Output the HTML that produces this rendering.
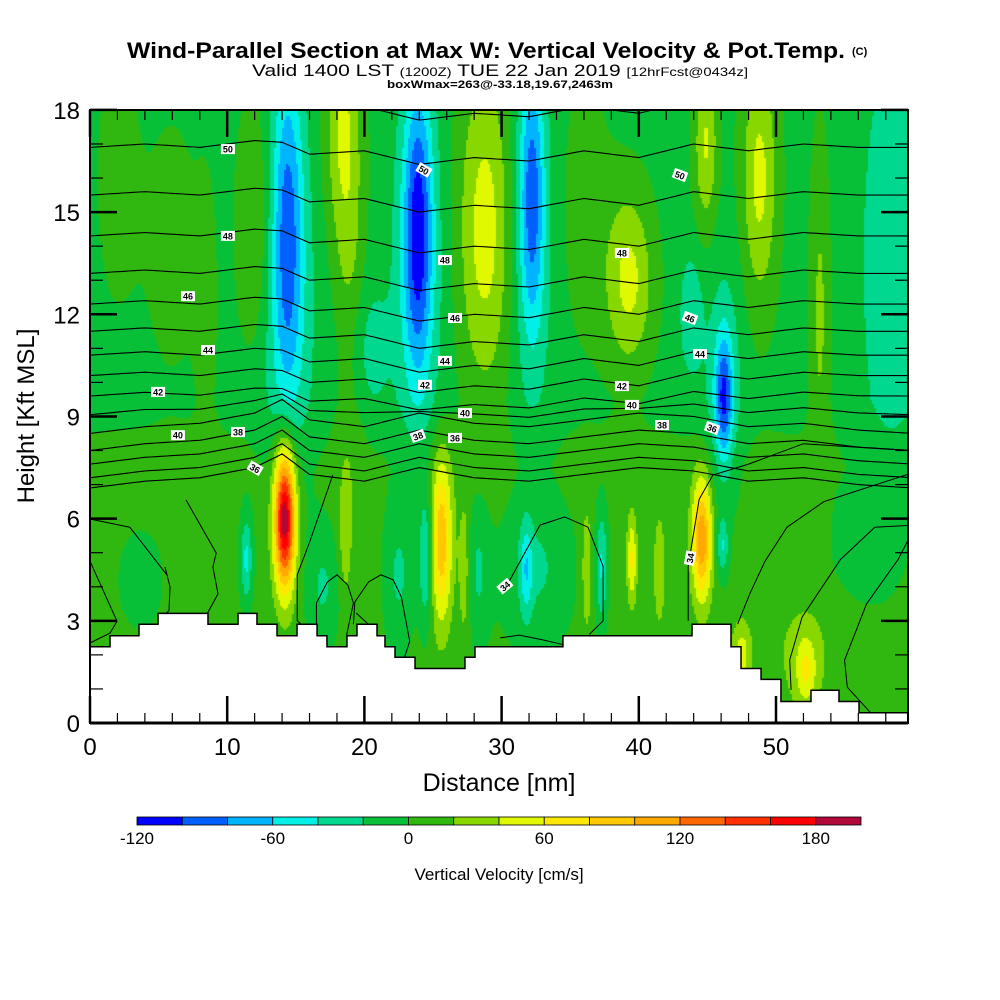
<!DOCTYPE html>
<html><head><meta charset="utf-8">
<style>
html,body{margin:0;padding:0;background:#fff;}
#wrap{position:relative;width:1000px;height:1000px;overflow:hidden;font-family:"Liberation Sans",sans-serif;}
#field{position:absolute;left:90px;top:110px;}
#over{position:absolute;left:0;top:0;}
</style></head>
<body>
<div id="wrap">
<canvas id="field" width="818" height="613"></canvas>
<svg id="over" width="1000" height="1000" xmlns="http://www.w3.org/2000/svg">
<g id="contourG"></g>
<g id="terrainG"></g>
<g id="labelG"></g>
<g id="axesG"></g>
<text x="127" y="58" textLength="718" lengthAdjust="spacingAndGlyphs" font-size="22" font-weight="bold">Wind-Parallel Section at Max W: Vertical Velocity &amp; Pot.Temp.</text>
<text x="852" y="55" font-size="11" font-weight="bold">(C)</text>
<text x="252" y="76" textLength="496" lengthAdjust="spacingAndGlyphs" font-size="17">Valid 1400 LST <tspan font-size="12">(1200Z)</tspan> TUE 22 Jan 2019 <tspan font-size="12">[12hrFcst@0434z]</tspan></text>
<text x="387" y="88" textLength="226" lengthAdjust="spacingAndGlyphs" font-size="11" font-weight="bold">boxWmax=263@-33.18,19.67,2463m</text>
<text x="499" y="791" text-anchor="middle" font-size="25">Distance [nm]</text>
<text transform="translate(34,416) rotate(-90)" text-anchor="middle" font-size="24">Height [Kft MSL]</text>
<g id="cbarG"></g>
<text x="499" y="880" text-anchor="middle" font-size="17">Vertical Velocity [cm/s]</text>
</svg>
</div>
<script>
// ---- data ----
const colorBounds=[-120,-100,-80,-60,-40,-20,0,20,40,60,80,100,120,140,160,180,200];
const colorFills=["#0000ff","#0060ff","#00b4ff","#00f0e8","#00d890","#08c038","#30b810","#88d800","#e0f800","#ffe800","#ffc800","#ffa800","#ff6800","#ff3000","#ff0000","#b00838"];
const cbarTicks=[-120,-60,0,60,120,180];
const xTicks=[0,10,20,30,40,50];
const yTicks=[0,3,6,9,12,15,18];
// w-field cores: centre x (nm), width (nm), centre z (kft), depth (kft), amplitude (cm/s)
const plumeX=  [14.4,14.4,23.9,23.9,32.2,32.2,46.2,46.2,58.5,20,43.8,11.4,24.5,37.3,46.1,31.8,17,22.5,32.5,3.7,28.3,56, 14.2,25.6,44.6,39.5,28.8,18.4,39.3,44.9,48.8,53.2,12,19,52.2,52,18.6,27.3,36.2,41.5,47.5,6,8.5,2,36];
const plumeSX= [0.8,1.6,0.75,1.5,0.65,1.3,0.45,1.0,1.6,1.2,0.6,0.3,0.35,0.3,0.3,0.3,0.8,0.7,1.8,1.0,0.6,2, 0.55,0.55,0.5,0.25,1.4,0.9,1.2,0.6,0.9,0.5,0.9,0.8,0.5,1.5,0.3,0.3,0.3,0.3,0.5,1.5,0.6,1.2,1.5];
const plumeZ=  [14.5,12,14.5,13,15.5,14,9.5,10,13.5,11,12,4.8,4.8,4.6,5.2,4.5,4,4.3,4.5,4.2,4.5,5.5, 6.0,5.4,5.4,4.8,14.5,17.5,13,17,16,12,14.5,12,1.5,2,5.5,4.5,4.5,4.5,2.0,14,12,16,15];
const plumeSZ= [3.6,4,3.0,4,2.8,4,1.3,2.5,4.5,1.5,1.3,0.9,1.3,1.2,0.6,1,1.2,1.5,1.5,0.9,1.5,1.5, 1.45,1.7,1.25,0.9,3.4,2.5,1.8,1.8,2.6,3.5,2.5,3.5,0.7,1.2,1.2,1.5,1.5,1.2,0.7,3,3,3,3];
const plumeAmp=[-72,-22,-92,-22,-74,-20,-78,-26,-33,-26,-30,-50,-52,-48,-44,-42,-28,-28,-28,-22,-28,-12, 198,92,112,58,56,46,52,48,52,30,30,28,40,22,30,30,28,30,45,12,12,12,14];
// terrain
const terrainX=[0,1.46,3.57,4.96,8.6,10.79,12.17,13.63,15.09,16.55,17.27,18.73,19.46,20.92,21.5,22.23,23.69,27.33,28.06,34.47,43.88,46.72,47.45,48.91,50.36,52.55,54.59,56.05,59.6];
const terrainZ=[2.24,2.56,2.9,3.22,2.9,3.22,2.9,2.56,2.9,2.56,2.24,2.56,2.9,2.56,2.24,1.93,1.6,1.93,2.24,2.56,2.9,2.24,1.6,1.28,0.63,0.96,0.63,0.3];
// potential temperature contours
const thetaLevels=[36,37,38,39,40,41,42,43,44,45,46,47,48,49,50,51];
const thetaBaseZ=[6.9,7.2,7.6,8.0,8.5,9.05,9.6,10.2,10.8,11.5,12.3,13.2,14.3,15.5,16.9,18.2];
const dispX=[0,4,8,12,14,16,20,24,28,32,36,40,44,48,52,56,60];
const upperDisp=[0,0.1,0,0.2,0.15,-0.2,-0.1,-0.5,-0.3,-0.4,-0.1,-0.3,0.1,-0.1,0.1,0,0];
const lowerDisp=[0,0.2,0.3,0.6,1.0,0.4,0.2,0.6,0.3,0.2,0.4,0.6,0.5,0.2,0.3,0.1,0];
// near-ground closed contour paths [x nm, z kft]
const groundContours=[
 [[0,4.75],[1.97,2.99],[1.46,2.64],[0,2.35]],
 [[0,5.99],[2.9,5.75],[5.6,4.35],[5.47,4.58],[5.83,4.0],[5.76,3.3],[4.96,3.0]],
 [[7.0,6.55],[9.2,4.99],[8.96,4.58],[9.33,3.79],[8.53,3.2]],
 [[17.7,7.28],[16.0,5.3],[15.1,4.35],[15.1,3.0],[15.4,2.9]],
 [[16.5,2.9],[16.5,3.52],[17.3,4.14],[18.0,4.35],[18.8,4.05],[19.2,3.52],[18.7,2.58]],
 [[19.2,2.9],[19.3,3.55],[20.3,4.14],[21.2,4.35],[22.1,4.2],[22.7,3.7],[23.3,2.4],[22.9,1.9]],
 [[19.4,3.23],[20.5,2.82],[22.0,1.9]],
 [[30.2,3.9],[32.8,5.81],[34.6,6.05],[36.3,5.75],[37.4,4.6],[37.4,3.0],[36.4,2.6]],
 [[29.9,2.5],[31.3,2.58],[33.0,2.44],[34.5,2.3]],
 [[43.6,3.0],[43.6,4.6],[44.4,6.57],[45.4,7.28],[48,7.6],[52,8.2],[59.6,8.0]],
 [[47.2,2.9],[48.1,3.8],[49.2,4.75],[50.8,5.75],[53.5,6.5],[59.6,7.3]],
 [[51.1,0.97],[51.0,1.85],[51.9,3.11],[54.7,4.8],[57.2,5.75],[59.6,5.8]],
 [[56.9,0.3],[55.2,1.05],[55.0,1.85],[56.6,3.5],[58.9,4.8],[59.6,5.35]]
];
const labelText=["50","48","46","44","42","40","38","36","50","48","46","44","42","40","38","36","34","50","48","46","44","42","40","38","36","34"];
const labelX=[10.05,10.05,7.14,8.6,4.96,6.41,10.79,12.03,24.34,25.87,26.6,25.87,24.42,27.33,23.9,26.6,30.24,43.0,38.77,43.73,44.46,38.77,39.5,41.69,45.34,43.73];
const labelZ=[16.85,14.3,12.53,10.95,9.72,8.45,8.54,7.48,16.24,13.59,11.89,10.63,9.93,9.1,8.43,8.37,4.02,16.09,13.8,11.89,10.83,9.89,9.34,8.75,8.66,4.84];
const labelRot=[0,0,0,0,0,0,0,30,30,0,0,0,0,0,-20,0,-40,20,0,20,0,0,0,0,20,-80];

// ---- scales ----
const X0=90,X1=908,Y0=723,Y1=110;
function sx(x){return X0+x*13.72;}
function sy(z){return Y0-z*34.06;}
function lerpArr(xa,ya,x){for(let i=0;i<xa.length-1;i++){if(x<=xa[i+1]){const t=(x-xa[i])/(xa[i+1]-xa[i]);return ya[i]+t*(ya[i+1]-ya[i]);}}return ya[ya.length-1];}
function wAt(x,z){
 const t=Math.min(1,Math.max(0,(z-7.5)/2));
 let v=6-12*t;
 for(let i=0;i<plumeX.length;i++){
  const dx=(x-plumeX[i])/plumeSX[i],dz=(z-plumeZ[i])/plumeSZ[i];
  const e=0.5*dx*dx+0.5*dz*dz;
  if(e<12)v+=plumeAmp[i]*Math.exp(-e);
 }
 return v;
}
function colorFor(v){
 for(let i=0;i<colorFills.length;i++){if(v<colorBounds[i+1])return colorFills[i];}
 return colorFills[colorFills.length-1];
}
// ---- field ----
const ctx=document.getElementById('field').getContext('2d');
const cell=2;
for(let px=0;px<818;px+=cell){
 for(let py=0;py<613;py+=cell){
  const x=(px+cell/2)/13.72, z=(Y0-(py+Y1+cell/2))/34.06;
  ctx.fillStyle=colorFor(wAt(x,z));
  ctx.fillRect(px,py,cell,cell);
 }
}
const NS='http://www.w3.org/2000/svg';
function mk(tag,attrs,parent){const e=document.createElementNS(NS,tag);for(const k in attrs)e.setAttribute(k,attrs[k]);parent.appendChild(e);return e;}
// ---- terrain ----
const tg=document.getElementById('terrainG');
let td='M'+sx(0)+','+Y0;
for(let i=0;i<terrainZ.length;i++){td+=' L'+sx(terrainX[i])+','+sy(terrainZ[i])+' L'+sx(terrainX[i+1])+','+sy(terrainZ[i]);}
td+=' L'+X1+','+Y0+' Z';
const terr=mk('path',{d:td,fill:'#fff',stroke:'#000','stroke-width':1.5},tg);


// ---- contours ----
const cg=document.getElementById('contourG');
for(let k=0;k<thetaLevels.length;k++){
 let d='';
 for(let x=0;x<=59.6;x+=0.4){
  const w=Math.min(1,Math.max(0,(thetaBaseZ[k]-8.5)/1.2));
  const z=thetaBaseZ[k]+w*lerpArr(dispX,upperDisp,x)+(1-w)*lerpArr(dispX,lowerDisp,x);
  d+=(d?' L':'M')+sx(x).toFixed(1)+','+Math.max(Y1,sy(z)).toFixed(1);
 }
 const p=mk('path',{d:d,fill:'none',stroke:'#000','stroke-width':1.1},cg);
 
 
}
for(let g=0;g<groundContours.length;g++){
 const pts=groundContours[g];
 let d='';
 pts.forEach(function(q,i){d+=(i?' L':'M')+sx(q[0]).toFixed(1)+','+sy(q[1]).toFixed(1);});
 const p=mk('path',{d:d,fill:'none',stroke:'#000','stroke-width':1},cg);
 
 
}
const lg=document.getElementById('labelG');
for(let i=0;i<labelText.length;i++){
 const g=mk('g',{transform:'translate('+sx(labelX[i]).toFixed(1)+','+sy(labelZ[i]).toFixed(1)+') rotate('+labelRot[i]+')'},lg);
 
 
 mk('rect',{x:-7,y:-5,width:14,height:10,fill:'#fff'},g);
 const t=mk('text',{x:0,y:3.5,'text-anchor':'middle','font-size':9,'font-weight':'bold'},g);
 t.textContent=labelText[i];
}
// ---- axes ----
const ag=document.getElementById('axesG');
mk('rect',{x:X0,y:Y1,width:X1-X0,height:Y0-Y1,fill:'none',stroke:'#000','stroke-width':2},ag);
mk('line',{x1:X0,y1:Y0,x2:X1,y2:Y0,stroke:'#000','stroke-width':3},ag);
for(let x=0;x<=58;x+=2){
 const L=(x%10===0)?27:10;
 mk('line',{x1:sx(x),y1:Y0,x2:sx(x),y2:Y0-L,stroke:'#000','stroke-width':x%10===0?2.5:1.2},ag);
 mk('line',{x1:sx(x),y1:Y1,x2:sx(x),y2:Y1+L,stroke:'#000','stroke-width':x%10===0?2.5:1.2},ag);
}
for(let z=0;z<=18;z+=1){
 const L=(z%3===0)?27:13;
 mk('line',{x1:X0,y1:sy(z),x2:X0+L,y2:sy(z),stroke:'#000','stroke-width':z%3===0?2.5:1.2},ag);
 mk('line',{x1:X1,y1:sy(z),x2:X1-L,y2:sy(z),stroke:'#000','stroke-width':z%3===0?2.5:1.2},ag);
}
xTicks.forEach(function(v){
 const t=mk('text',{x:sx(v),y:755,'text-anchor':'middle','font-size':24},ag);
 
 
 t.textContent=v;
});
yTicks.forEach(function(v){
 const t=mk('text',{x:80,y:sy(v)+9,'text-anchor':'end','font-size':24},ag);
 
 
 t.textContent=v;
});
// ---- colorbar ----
const cb=document.getElementById('cbarG');
function cx(v){return 137+(v+120)*(724/320);}
for(let i=0;i<colorFills.length;i++){
 const r=mk('rect',{x:cx(colorBounds[i]),y:817,width:cx(colorBounds[i+1])-cx(colorBounds[i]),height:8,fill:colorFills[i],stroke:'#000','stroke-width':0.8},cb);
 
 
}
cbarTicks.forEach(function(v){
 const t=mk('text',{x:cx(v),y:844,'text-anchor':'middle','font-size':17},cb);
 
 
 t.textContent=v;
});
</script>
</body></html>
